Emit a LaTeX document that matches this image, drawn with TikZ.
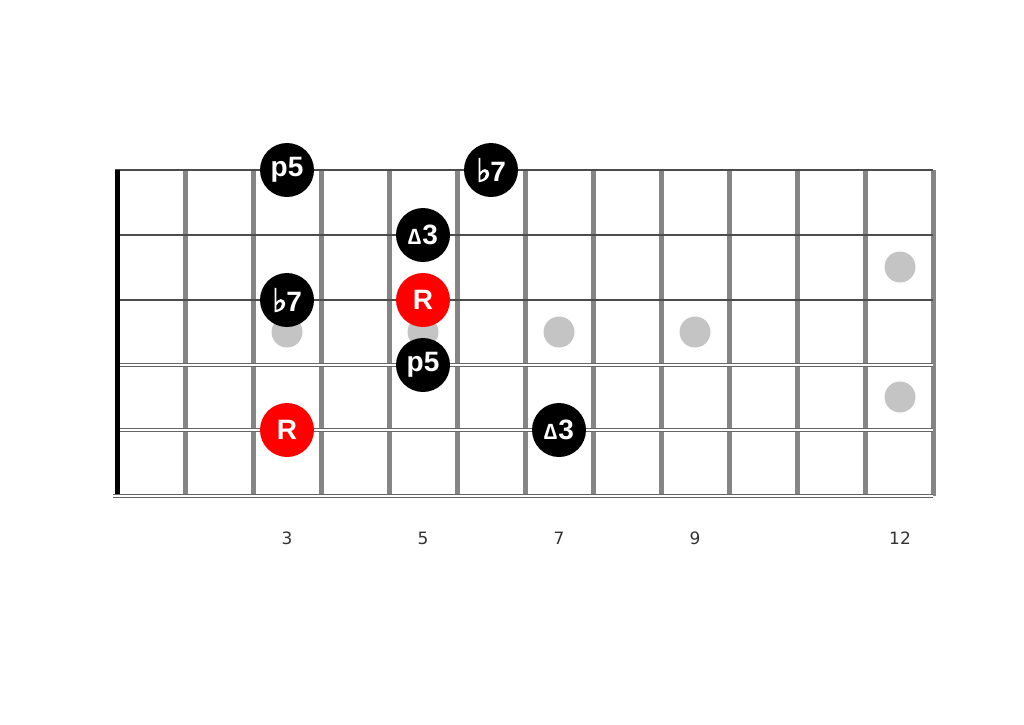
\documentclass[tikz,border=0pt]{standalone}
\usepackage{fontspec}
\setmainfont{Liberation Sans}
\newfontfamily\symfont{DejaVu Sans}[FakeBold=3]
\newfontfamily\numfont{DejaVu Sans}
\usetikzlibrary{positioning}
\definecolor{fretgray}{HTML}{858585}
\definecolor{dotgray}{HTML}{C4C4C4}
\definecolor{rootred}{HTML}{FF0000}
\newcommand{\flatsign}{{\symfont\bfseries\fontsize{32}{32}\selectfont ♭}\kern-1pt}
\newcommand{\majsign}{{\fontsize{22}{22}\selectfont ∆}\kern1pt}

\begin{document}
\begin{tikzpicture}[x=1pt,y=-1pt]

	\tikzstyle{note} = [circle, fill=black, minimum size=54pt, inner sep=0pt, text=white, font=\fontsize{28}{28}\selectfont\bfseries]
	\tikzstyle{root} = [note, fill=rootred]
	\tikzstyle{marker} = [circle, fill=dotgray, minimum size=31pt, inner sep=0pt]
	\tikzstyle{fretno} = [font=\numfont\fontsize{17}{17}\selectfont, text=black!80]
	\tikzstyle{fret} = [line width=5pt, draw=fretgray]
	\tikzstyle{nut} = [line width=5pt, draw=black]
	\tikzstyle{plainstring} = [line width=1.2pt, draw=black!70]
	\tikzstyle{woundstring} = [line width=1pt, draw=black!60, double=white, double distance=1.3pt]

	\useasboundingbox (0,0) rectangle (1024,724);

	% frets
	\foreach \i in {1,...,12}
		\draw [fret] (117+68*\i,170) -- (117+68*\i,496);

	% strings
	\draw [plainstring] (115,170) -- (933,170);
	\draw [plainstring] (115,235) -- (933,235);
	\draw [plainstring] (115,300) -- (933,300);
	\draw [woundstring] (115,365) -- (933,365);
	\draw [woundstring] (115,430) -- (933,430);
	\draw [woundstring] (113,496) -- (933,496);

	% nut
	\draw [nut] (117,170) -- (117,494);

	% inlay dots
	\node (dot3) [marker] at (287,332) {};
	\node (dot5) [marker] at (423,332) {};
	\node (dot7) [marker] at (559,332) {};
	\node (dot9) [marker] at (695,332) {};
	\node (dot12a) [marker] at (900,267) {};
	\node (dot12b) [marker] at (900,397) {};

	% notes
	\node (fifthA) [note] at (287,170) {p5};
	\node (sevA) [note] at (491,170) {\flatsign7};
	\node (thirdA) [note] at (423,235) {\majsign3};
	\node (sevB) [note] at (287,300) {\flatsign7};
	\node (rootA) [root] at (423,300) {R};
	\node (fifthB) [note] at (423,365) {p5};
	\node (rootB) [root] at (287,430) {R};
	\node (thirdB) [note] at (559,430) {\majsign3};

	% fret numbers
	\node (n3) [fretno] at (287,538) {3};
	\node (n5) [fretno] at (423,538) {5};
	\node (n7) [fretno] at (559,538) {7};
	\node (n9) [fretno] at (695,538) {9};
	\node (n12) [fretno] at (900,538) {12};

\end{tikzpicture}
\end{document}
